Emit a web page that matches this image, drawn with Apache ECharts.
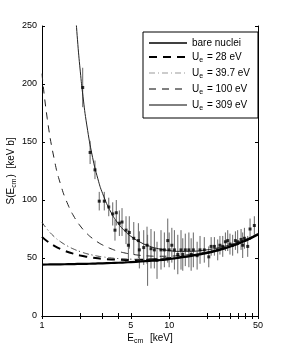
<!DOCTYPE html>
<html>
<head>
<meta charset="utf-8">
<script src="https://cdn.jsdelivr.net/npm/echarts@6/dist/echarts.min.js"></script>
<style>html,body{margin:0;padding:0;background:#fff;}#c{width:284px;height:355px;}</style>
</head>
<body>
<div id="c"></div>
<script>
// Curve sample energies (keV) and S-factor values (keV b)
const curveE = [1, 1.1, 1.25, 1.4, 1.6, 1.8, 2, 2.25, 2.5, 2.75, 3, 3.5, 4, 4.5, 5, 6, 7, 8, 10, 12, 15, 20, 25, 30, 35, 40, 45, 50];
const bareS = [44.3, 44.4, 44.5, 44.5, 44.7, 44.8, 44.9, 45.0, 45.1, 45.3, 45.4, 45.7, 45.9, 46.2, 46.5, 47.0, 47.5, 48.0, 49.1, 50.2, 51.8, 54.4, 57.1, 59.7, 62.4, 65.0, 67.7, 70.3];
const ue28S = [68.2, 64.4, 60.5, 57.7, 55.2, 53.5, 52.2, 51.1, 50.3, 49.7, 49.3, 48.8, 48.5, 48.3, 48.3, 48.4, 48.6, 49.0, 49.8, 50.7, 52.1, 54.7, 57.3, 59.9, 62.5, 65.1, 67.8, 70.4];
const ue39S = [80.8, 74.7, 68.3, 64.0, 60.1, 57.4, 55.5, 53.7, 52.5, 51.6, 51.0, 50.0, 49.5, 49.2, 49.0, 48.9, 49.1, 49.3, 50.0, 50.9, 52.3, 54.8, 57.3, 59.9, 62.5, 65.2, 67.8, 70.4];
const ue100S = [208.9, 170.1, 134.8, 113.5, 96.0, 85.0, 77.6, 71.2, 66.8, 63.6, 61.2, 57.9, 55.7, 54.3, 53.4, 52.2, 51.7, 51.5, 51.6, 52.1, 53.2, 55.4, 57.8, 60.3, 62.8, 65.4, 68.0, 70.6];
const ue309E = [1.8, 1.9, 2, 2.1, 2.25, 2.5, 2.75, 3, 3.5, 4, 4.5, 5, 6, 7, 8, 10, 12, 15, 20, 25, 30, 35, 40, 45, 50];
const ue309S = [274.5, 238.6, 211.1, 189.4, 164.7, 136.7, 118.3, 105.5, 89.1, 79.4, 73.1, 68.7, 63.3, 60.2, 58.3, 56.4, 55.7, 55.8, 57.1, 59.1, 61.3, 63.7, 66.1, 68.6, 71.2];

// Measured data points
const dataE = [2.09, 2.39, 2.61, 2.82, 3.09, 3.35, 3.60, 3.75, 3.84, 4.06, 4.26, 4.58, 4.78, 4.86, 5.27, 5.73, 5.83, 6.31, 6.70, 6.77, 7.20, 7.65, 8.03, 8.63, 9.17, 9.75, 10.0, 10.5, 11.0, 11.7, 12.4, 12.8, 13.4, 14.3, 14.9, 15.5, 16.6, 17.5, 18.9, 20.5, 21.4, 22.7, 24.1, 25.1, 26.4, 27.7, 28.9, 30.1, 31.6, 33.2, 34.6, 36.8, 37.9, 39.1, 41.5, 43.3, 46.8];
const dataS = [197, 141, 126, 99, 99, 94, 88, 74, 89, 80, 81, 74, 61, 72, 67, 65, 57, 59, 61, 48, 58, 57, 48, 57, 57, 65, 57, 61, 57, 53, 57, 53, 57, 57, 53, 57, 52, 57, 57, 51, 60, 60, 57, 61, 60, 64, 65, 62, 61, 65, 64, 66, 61, 67, 60, 75, 78];
const dataErr = [17, 10, 8, 8, 8, 8, 10, 9, 11, 11, 12, 12, 13, 14, 14, 15, 16, 15, 16, 22, 17, 16, 16, 17, 15, 19, 15, 15, 17, 17, 17, 14, 14, 15, 14, 15, 12, 12, 11, 9, 8, 8, 9, 8, 9, 8, 9, 9, 9, 8, 10, 9, 11, 9, 9, 9, 8];

const xTickVals = [1, 2, 3, 4, 5, 10, 20, 25, 30, 35, 40, 45, 50];
const xLabelVals = [1, 5, 10, 50];
const legendLabels = ['bare nuclei', '28 eV', '39.7 eV', '100 eV', '309 eV'];

const FONT = 'Liberation Sans, Arial, Helvetica, sans-serif';
const rich = {
  n: {fontSize: 10, fontFamily: FONT, color: '#000'},
  s: {fontSize: 7, fontFamily: FONT, color: '#000', padding: [7, 1, 0, 0]}
};

function pairs(xs, ys) { return xs.map((x, i) => [x, ys[i]]); }
const names = ['bare nuclei', 'Ue28', 'Ue39', 'Ue100', 'Ue309'];
const legendWidths = [1.6, 2, 1, 1, 1];
const legendColors = ['#000', '#000', '#999', '#000', '#000'];

const chart = echarts.init(document.getElementById('c'), null, {renderer: 'canvas'});
const axisLineStyle = {color: '#000', width: 1};
chart.setOption({
  animation: false,
  backgroundColor: '#fff',
  grid: {left: 42, top: 26, right: 26, bottom: 39, containLabel: false, outerBoundsMode: 'none'},
  legend: {
    left: 143, top: 32, orient: 'vertical',
    data: names.map((n, i) => ({name: n, lineStyle: {width: legendWidths[i], color: legendColors[i]}})),
    itemWidth: 38, itemHeight: 10, itemGap: 4,
    padding: [6, 8, 6, 5],
    backgroundColor: '#fff', borderColor: '#000', borderWidth: 1,
    itemStyle: {opacity: 0},
    textStyle: {rich: rich, fontFamily: FONT, fontSize: 10},
    formatter: function (name) {
      const i = names.indexOf(name);
      if (i === 0) return '{n|' + legendLabels[0] + '}';
      return '{n|U}{s|e}{n| = ' + legendLabels[i] + '}';
    }
  },
  xAxis: [{
    type: 'log', logBase: 10, min: 1, max: 50,
    name: '{n|E}{s|cm}{n|  [keV]}', nameLocation: 'middle', nameGap: 15, nameMoveOverlap: false,
    nameTextStyle: {rich: rich},
    axisLine: {lineStyle: axisLineStyle},
    axisTick: {inside: true, length: 3, customValues: xTickVals, lineStyle: {color: '#000'}},
    axisLabel: {customValues: xLabelVals, fontSize: 9, fontFamily: FONT, color: '#000', margin: 5},
    splitLine: {show: false}, minorTick: {show: false}
  }, {
    type: 'log', logBase: 10, min: 1, max: 50, position: 'top',
    axisLine: {lineStyle: axisLineStyle},
    axisTick: {inside: true, length: 3, customValues: xTickVals, lineStyle: {color: '#000'}},
    axisLabel: {show: false}, splitLine: {show: false}
  }],
  yAxis: [{
    type: 'value', min: 0, max: 250, interval: 50,
    name: '{n|S(E}{s|cm}{n|)  [keV b]}', nameLocation: 'middle', nameGap: 24, nameMoveOverlap: false,
    nameTextStyle: {rich: rich},
    axisLine: {show: true, lineStyle: axisLineStyle},
    axisTick: {show: true, inside: true, length: 3, lineStyle: {color: '#000'}},
    axisLabel: {fontSize: 9, fontFamily: FONT, color: '#000', margin: 5},
    splitLine: {show: false}
  }, {
    type: 'value', min: 0, max: 250, interval: 50, position: 'right',
    axisLine: {show: true, lineStyle: axisLineStyle},
    axisTick: {show: true, inside: true, length: 3, lineStyle: {color: '#000'}},
    axisLabel: {show: false}, splitLine: {show: false}
  }],
  series: [
    {name: names[0], type: 'line', data: pairs(curveE, bareS), smooth: true, symbol: 'none',
     lineStyle: {color: '#000', width: 2.2}, itemStyle: {color: '#000'}, z: 5},
    {name: names[1], type: 'line', data: pairs(curveE, ue28S), smooth: true, symbol: 'none',
     lineStyle: {color: '#000', width: 2, type: [8, 6]}, itemStyle: {color: '#000'}, z: 4},
    {name: names[2], type: 'line', data: pairs(curveE, ue39S), smooth: true, symbol: 'none',
     lineStyle: {color: '#444', width: 1, type: [6, 3, 1, 3]}, itemStyle: {color: '#444'}, z: 4},
    {name: names[3], type: 'line', data: pairs(curveE, ue100S), smooth: true, symbol: 'none',
     lineStyle: {color: '#222', width: 1, type: [7, 6]}, itemStyle: {color: '#222'}, z: 4},
    {name: names[4], type: 'line', data: pairs(ue309E, ue309S), smooth: true, symbol: 'none',
     lineStyle: {color: '#222', width: 1}, itemStyle: {color: '#222'}, z: 4},
    {name: 'err', type: 'custom', z: 3,
     data: dataE.map((e, i) => [e, dataS[i] - dataErr[i], dataS[i] + dataErr[i]]),
     renderItem: function (params, api) {
       const p1 = api.coord([api.value(0), api.value(1)]);
       const p2 = api.coord([api.value(0), api.value(2)]);
       return {type: 'line', shape: {x1: p1[0], y1: p1[1], x2: p2[0], y2: p2[1]},
               style: {stroke: '#666', lineWidth: 1}};
     }},
    {name: 'data', type: 'scatter', z: 6, data: pairs(dataE, dataS),
     symbol: 'rect', symbolSize: 3, itemStyle: {color: '#000'}}
  ]
});
</script>
</body>
</html>
